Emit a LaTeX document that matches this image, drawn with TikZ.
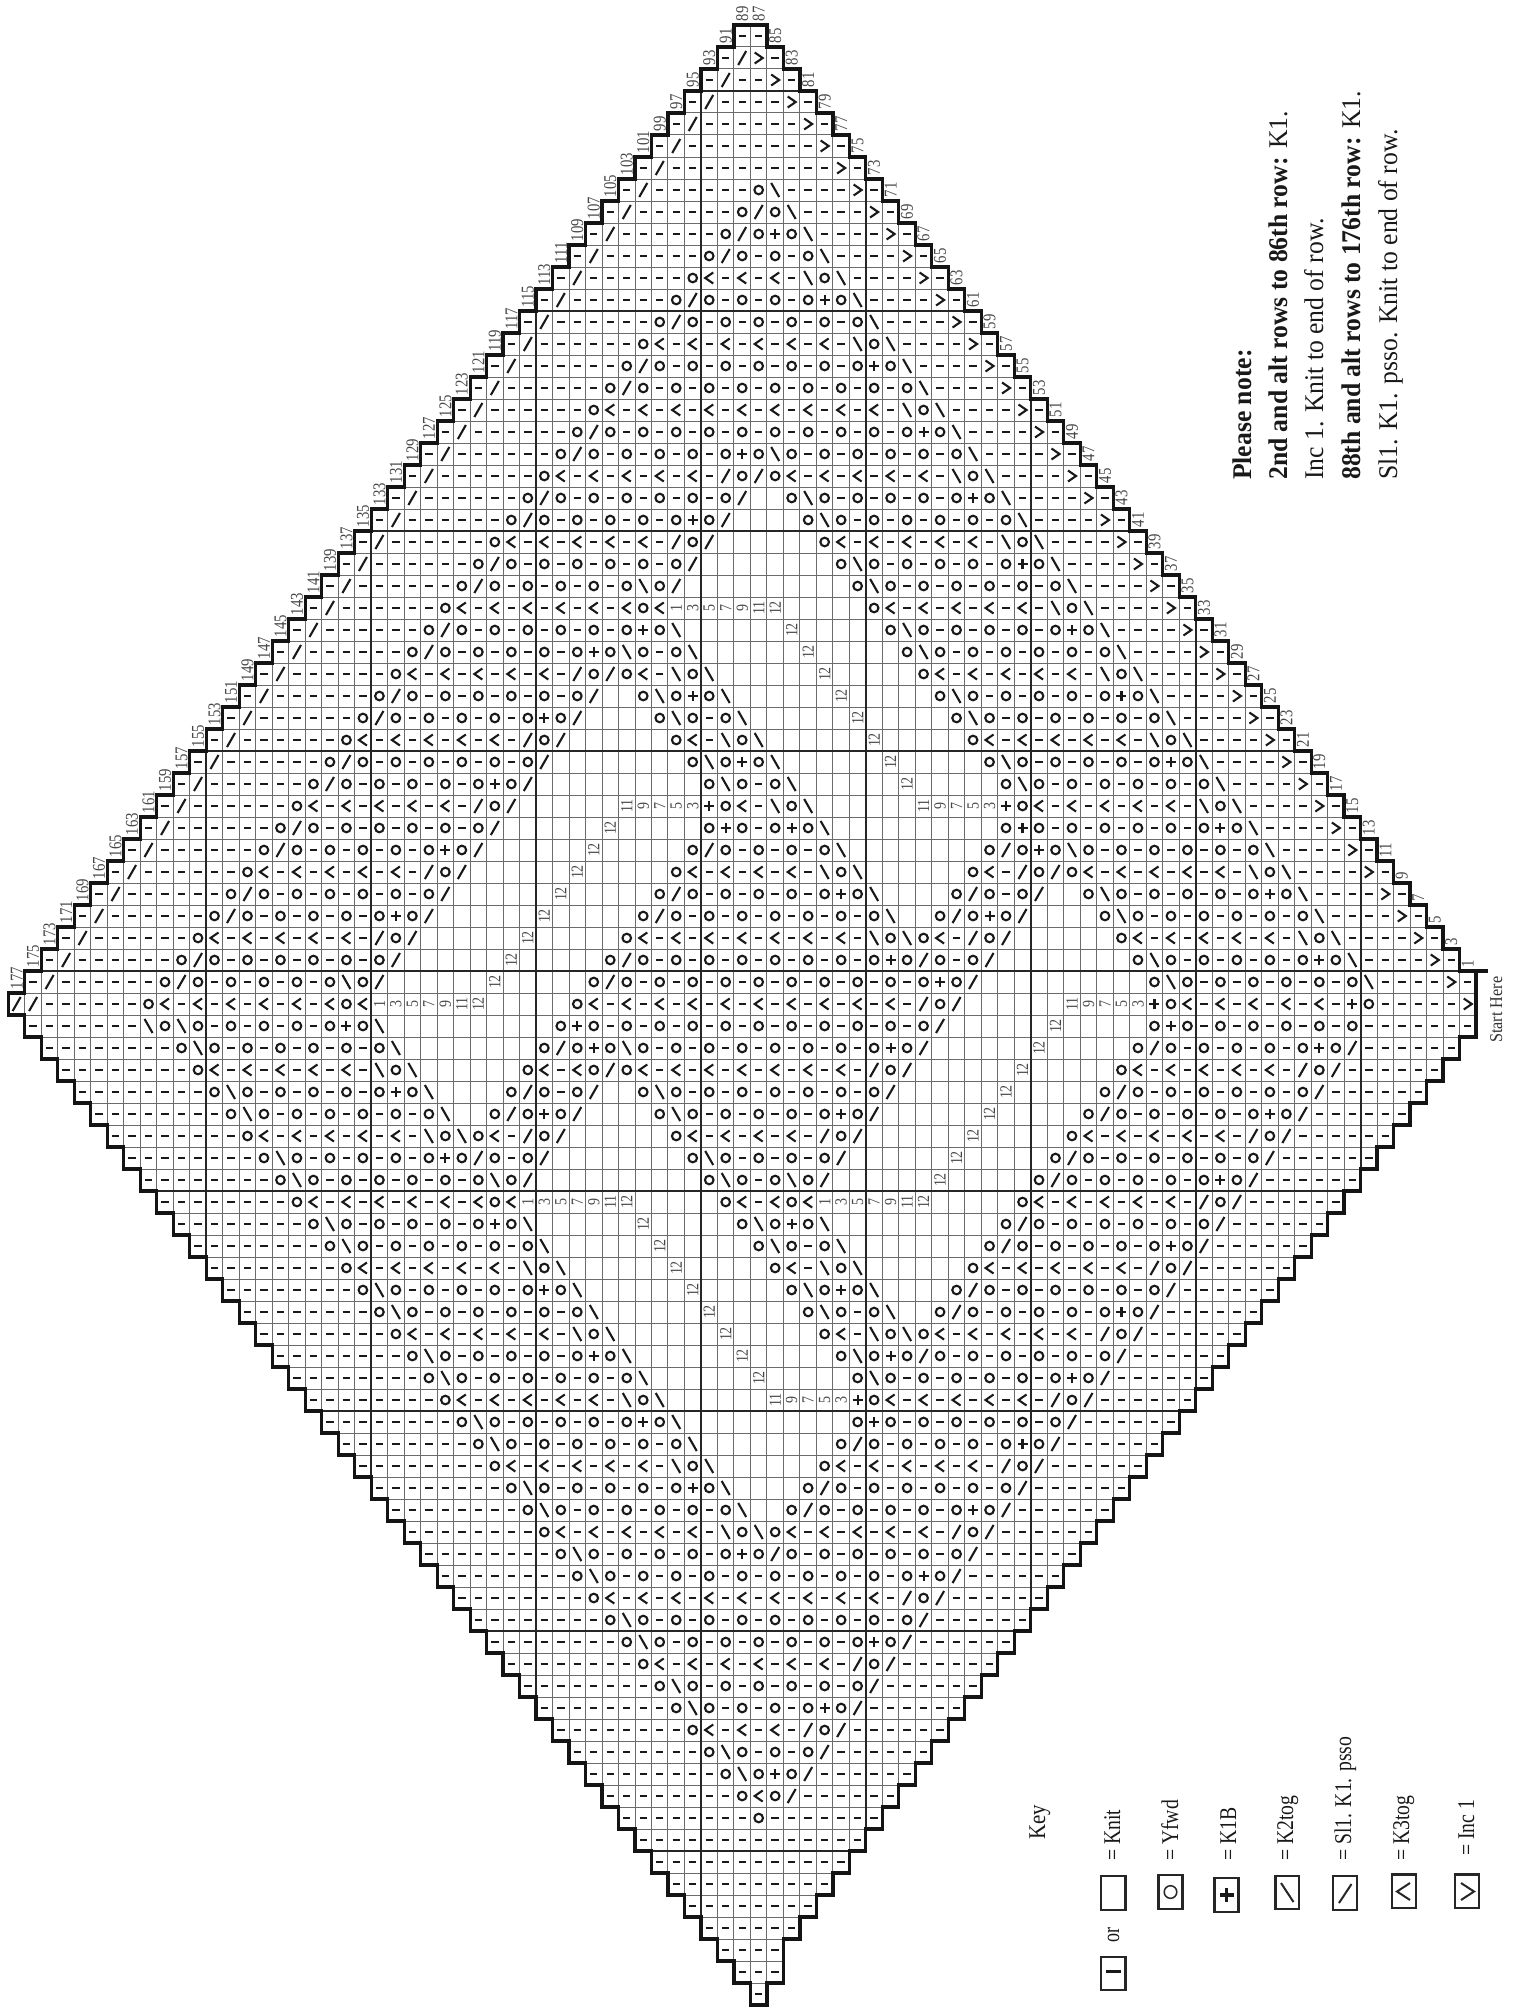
\documentclass[tikz,border=0pt]{standalone}
\usepackage{fontspec}
\setmainfont{Liberation Serif}
\newcount\rR \newcount\cC \newcount\tgt
\newdimen\xc \newdimen\yc
\def\Pt#1#2{\pgfqpoint{\dimexpr\xc+#1pt\relax}{\dimexpr\yc+#2pt\relax}}
\def\symM{\pgfpathmoveto{\Pt{-3.7}{0}}\pgfpathlineto{\Pt{3.7}{0}}\pgfusepathqstroke}
\def\symO{\pgfpathcircle{\pgfqpoint{\xc}{\yc}}{4.3pt}\pgfusepathqstroke}
\def\symP{\pgfpathmoveto{\Pt{-5}{0}}\pgfpathlineto{\Pt{5}{0}}\pgfpathmoveto{\Pt{0}{-5}}\pgfpathlineto{\Pt{0}{5}}\pgfusepathqstroke}
\def\symF{\pgfpathmoveto{\Pt{-4}{-7}}\pgfpathlineto{\Pt{4}{7}}\pgfusepathqstroke}
\def\symB{\pgfpathmoveto{\Pt{-4}{7}}\pgfpathlineto{\Pt{4}{-7}}\pgfusepathqstroke}
\def\symL{\pgfpathmoveto{\Pt{4}{5.5}}\pgfpathlineto{\Pt{-4}{0}}\pgfpathlineto{\Pt{4}{-5.5}}\pgfusepathqstroke}
\def\symG{\pgfpathmoveto{\Pt{-4}{5.5}}\pgfpathlineto{\Pt{4}{0}}\pgfpathlineto{\Pt{-4}{-5.5}}\pgfusepathqstroke}
\def\putcell#1{\xc=\dimexpr1476pt-8.245pt*\numexpr2*\cC-1\relax\relax
 \ifx#1-\symM\else\ifx#1o\symO\else\ifx#1+\symP\else\ifx#1/\symF\else\ifx#1b\symB\else\ifx#1<\symL\else\ifx#1>\symG\fi\fi\fi\fi\fi\fi\fi
 \advance\cC by -1 }
\def\strloop#1{\ifx#1\relax\else\putcell{#1}\expandafter\strloop\fi}
\def\fillto#1{\tgt=#1\relax\loop\ifnum\cC>\tgt \putcell-\repeat}
\def\segloop#1:#2;{\ifnum#1=0 \else\fillto{#1}\strloop#2\relax\expandafter\segloop\fi}
\def\Qq#1{\ifcase#1\or-o\or-o-o\or-o-o-o\or-o-o-o-o\or-o-o-o-o-o\or-o-o-o-o-o-o\or-o-o-o-o-o-o-o\or-o-o-o-o-o-o-o-o\or-o-o-o-o-o-o-o-o-o\or-o-o-o-o-o-o-o-o-o-o\fi}
\def\Wq#1{\ifcase#1\or-<\or-<-<\or-<-<-<\or-<-<-<-<\or-<-<-<-<-<\or-<-<-<-<-<-<\or-<-<-<-<-<-<-<\or-<-<-<-<-<-<-<-<\or-<-<-<-<-<-<-<-<-<\or-<-<-<-<-<-<-<-<-<-<\fi}
\def\Dq#1{\ifcase#1\or.\or..\or...\or....\or.....\or......\or.......\or........\or.........\or..........\or...........\or............\fi}
\def\getext#1{\ifnum#1<45 \edef\cL{\the\numexpr44+#1\relax}\edef\cT{\the\numexpr45-#1\relax}\else
 \edef\cL{\the\numexpr134-#1\relax}\ifnum#1<47 \def\cT{1}\else\ifnum#1=89 \def\cT{43}\else\ifnum#1=90 \def\cT{44}\else\edef\cT{\the\numexpr#1-45\relax}\fi\fi\fi\fi}
\def\getcol#1{\ifnum#1<45 \edef\rT{\the\numexpr45-#1\relax}\ifnum#1<43 \edef\rB{\the\numexpr#1+45\relax}\else\ifnum#1=43 \def\rB{89}\else\def\rB{90}\fi\fi\else
 \edef\rT{\the\numexpr#1-44\relax}\edef\rB{\the\numexpr134-#1\relax}\fi}
\def\KR#1#2{\rR=#1\relax\yc=\dimexpr-25pt-11pt*\numexpr2*\rR-1\relax\relax
 \getext{#1}\cC=\cL\relax\edef\segs{#2}\expandafter\segloop\segs 0:;\fillto{\numexpr\cT-1\relax}}
\newcommand\squeezed[2]{\scalebox{#1}[1]{#2}}
\def\lab#1#2#3{\node[lbl] at ({1476-16.49*(#1-.5)},{25+22*(#2-.5)}) {\squeezed{.82}{#3}};}
\tikzset{
 lbl/.style={rotate=90,inner sep=0pt,font=\fontsize{17}{17}\selectfont,text=black!72},
 edgelbl/.style={rotate=90,anchor=west,inner sep=0pt,font=\fontsize{18}{18}\selectfont,text=black!72},
 keytxt/.style={rotate=90,anchor=base west,inner sep=0pt,font=\fontsize{24}{24}\selectfont,text=black!90},
 notetxt/.style={rotate=90,anchor=base west,inner sep=0pt,font=\fontsize{27}{27}\selectfont,text=black!90},
 keybox/.style={draw=black!85,line width=2.5pt},
 keysym/.style={draw=black!85,line width=2pt},
 gridthin/.style={draw=black!58,line width=1pt},
 gridthick/.style={draw=black!85,line width=2pt},
 rim/.style={draw=black!92,line width=3.2pt,line cap=rect}
}
\begin{document}
\begin{tikzpicture}[x=1pt,y=-1pt]
\useasboundingbox[fill=white] (0,0) rectangle (1519,2007);
% thin grid
\foreach \r in {1,...,90}{\getext{\r}
 \draw[gridthin] ({1476-16.49*\cL},{25+22*(\r-1)}) -- ({1476-16.49*(\cT-1)},{25+22*(\r-1)});
 \draw[gridthin] ({1476-16.49*\cL},{25+22*\r}) -- ({1476-16.49*(\cT-1)},{25+22*\r});}
\foreach \c in {1,...,89}{\getcol{\c}
 \draw[gridthin] ({1476-16.49*\c},{25+22*(\rT-1)}) -- ({1476-16.49*\c},{25+22*\rB});
 \draw[gridthin] ({1476-16.49*(\c-1)},{25+22*(\rT-1)}) -- ({1476-16.49*(\c-1)},{25+22*\rB});}
% ten-cell heavy lines
\foreach \c in {7,17,...,77}{\getcol{\c}
 \draw[gridthick] ({1476-16.49*\c},{25+22*(\rT-1)}) -- ({1476-16.49*\c},{25+22*\rB});}
\foreach \r in {3,13,...,83}{\getext{\r}
 \draw[gridthick] ({1476-16.49*\cL},{25+22*\r}) -- ({1476-16.49*(\cT-1)},{25+22*\r});}
% symbols
\begin{scope}
\pgfsetlinewidth{2.1pt}\pgfsetstrokecolor{black!90}
\KR{1}{}
\KR{2}{45:/>;}
\KR{3}{46:/;43:>;}
\KR{4}{47:/;42:>;}
\KR{5}{48:/;41:>;}
\KR{6}{49:/;40:>;}
\KR{7}{50:/;39:>;}
\KR{8}{51:/;44:ob;38:>;}
\KR{9}{52:/;45:o/ob;37:>;}
\KR{10}{53:/;46:o/o+ob;36:>;}
\KR{11}{54:/;47:o/o\Qq{2}b;35:>;}
\KR{12}{55:/;48:o<\Wq{2}-bob;34:>;}
\KR{13}{56:/;49:o/o\Qq{3}+ob;33:>;}
\KR{14}{57:/;50:o/o\Qq{5}b;32:>;}
\KR{15}{58:/;51:o<\Wq{5}-bob;31:>;}
\KR{16}{59:/;52:o/o\Qq{6}+ob;30:>;}
\KR{17}{60:/;53:o/o\Qq{8}b;29:>;}
\KR{18}{61:/;54:o<\Wq{8}-bob;28:>;}
\KR{19}{62:/;55:o/o\Qq{9}+ob;27:>;}
\KR{20}{63:/;56:o/o\Qq{4}+obo\Qq{5}b;26:>;}
\KR{21}{64:/;57:o<\Wq{4}-/o/o<\Wq{4}-bob;25:>;}
\KR{22}{65:/;58:o/o\Qq{5}/\Dq{2}obo\Qq{4}+ob;24:>;}
\KR{23}{66:/;59:o/o\Qq{4}+o/\Dq{4}obo\Qq{5}b;23:>;}
\KR{24}{67:/;60:o<\Wq{4}-/o/\Dq{6}o<\Wq{4}-bob;22:>;}
\KR{25}{68:/;61:o/o\Qq{5}/\Dq{8}obo\Qq{4}+ob;21:>;}
\KR{26}{69:/;62:o/o\Qq{4}bo/\Dq{10}obo\Qq{5}b;20:>;}
\KR{27}{70:/;63:o<\Wq{5}o<\Dq{12}o<\Wq{4}-bob;19:>;}
\KR{28}{71:/;64:o/o\Qq{5}+ob\Dq{12}obo\Qq{4}+ob;18:>;}
\KR{29}{72:/;65:o/o\Qq{4}+obo\Qq{1}b\Dq{12}obo\Qq{5}b;17:>;}
\KR{30}{73:/;66:o<\Wq{4}-/o/o<-bob\Dq{12}o<\Wq{4}-bob;16:>;}
\KR{31}{74:/;67:o/o\Qq{5}/\Dq{2}obo+ob\Dq{12}obo\Qq{4}+ob;15:>;}
\KR{32}{75:/;68:o/o\Qq{4}+o/\Dq{4}obo\Qq{1}b\Dq{12}obo\Qq{5}b;14:>;}
\KR{33}{76:/;69:o<\Wq{4}-/o/\Dq{6}o<-bob\Dq{12}o<\Wq{4}-bob;13:>;}
\KR{34}{77:/;70:o/o\Qq{5}/\Dq{8}obo+ob\Dq{12}obo\Qq{4}+ob;12:>;}
\KR{35}{78:/;71:o/o\Qq{4}+o/\Dq{10}obo\Qq{1}b\Dq{12}obo\Qq{5}b;11:>;}
\KR{36}{79:/;72:o<\Wq{4}-/o/\Dq{11}+o<-bob\Dq{11}+o<\Wq{4}-bob;10:>;}
\KR{37}{80:/;73:o/o\Qq{5}/\Dq{12}o+o\Qq{1}+ob\Dq{10}o+o\Qq{5}+ob;9:>;}
\KR{38}{81:/;74:o/o\Qq{4}+o/\Dq{12}o/o\Qq{3}b\Dq{8}o/o+obo\Qq{5}b;8:>;}
\KR{39}{82:/;75:o<\Wq{4}-/o/\Dq{12}o<\Wq{3}-bob\Dq{6}o<-/o/o<\Wq{4}-bob;7:>;}
\KR{40}{83:/;76:o/o\Qq{5}/\Dq{12}o/o\Qq{4}+ob\Dq{4}o/o\Qq{1}/\Dq{2}obo\Qq{4}+ob;6:>;}
\KR{41}{84:/;77:o/o\Qq{4}+o/\Dq{12}o/o\Qq{6}b\Dq{2}o/o+o/\Dq{4}obo\Qq{5}b;5:>;}
\KR{42}{85:/;78:o<\Wq{4}-/o/\Dq{12}o<\Wq{6}-bobo<-/o/\Dq{6}o<\Wq{4}-bob;4:>;}
\KR{43}{86:/;79:o/o\Qq{5}/\Dq{12}o/o\Qq{7}+o/o\Qq{1}/\Dq{8}obo\Qq{4}+ob;3:>;}
\KR{44}{87:/;80:o/o\Qq{4}bo/\Dq{12}o/o\Qq{9}+o/\Dq{10}obo\Qq{5}b;2:>;}
\KR{45}{89://;81:o<\Wq{5}o<\Dq{12}o<\Wq{9}-/o/\Dq{11}+o<\Wq{4}-+o;1:>;}
\KR{46}{81:bobo\Qq{4}+ob\Dq{10}o+o\Qq{10}/\Dq{12}o+o\Qq{5};}
\KR{47}{79:obo\Qq{5}b\Dq{8}o/o+obo\Qq{7}+o/\Dq{12}o/o\Qq{4}+o/;}
\KR{48}{78:o<\Wq{4}-bob\Dq{6}o<-<o/o<\Wq{6}-/o/\Dq{12}o<\Wq{4}-/o/;}
\KR{49}{77:obo\Qq{4}+ob\Dq{4}o/o\Qq{1}/\Dq{2}obo\Qq{6}/\Dq{12}o/o\Qq{5}/;}
\KR{50}{76:obo\Qq{5}b\Dq{2}o/o+o/\Dq{4}obo\Qq{4}+o/\Dq{12}o/o\Qq{4}+o/;}
\KR{51}{75:o<\Wq{4}-bobo<-/o/\Dq{6}o<\Wq{3}-/o/\Dq{12}o<\Wq{4}-/o/;}
\KR{52}{74:obo\Qq{4}+o/o\Qq{1}/\Dq{8}obo\Qq{3}/\Dq{12}o/o\Qq{5}/;}
\KR{53}{73:obo\Qq{5}bo/\Dq{10}obo\Qq{1}bo/\Dq{12}o/o\Qq{4}+o/;}
\KR{54}{72:o<\Wq{5}o<\Dq{12}o<\Wq{1}o<\Dq{12}o<\Wq{4}-/o/;}
\KR{55}{71:obo\Qq{4}+ob\Dq{12}obo+ob\Dq{10}o/o\Qq{5}/;}
\KR{56}{70:obo\Qq{5}b\Dq{12}obo\Qq{1}b\Dq{8}o/o\Qq{4}+o/;}
\KR{57}{69:o<\Wq{4}-bob\Dq{12}o<-bob\Dq{6}o<\Wq{4}-/o/;}
\KR{58}{68:obo\Qq{4}+ob\Dq{12}obo+ob\Dq{4}o/o\Qq{5}/;}
\KR{59}{67:obo\Qq{5}b\Dq{12}obo\Qq{1}b\Dq{2}o/o\Qq{4}+o/;}
\KR{60}{66:o<\Wq{4}-bob\Dq{12}o<-bobo<\Wq{4}-/o/;}
\KR{61}{65:obo\Qq{4}+ob\Dq{12}obo+o/o\Qq{5}/;}
\KR{62}{64:obo\Qq{5}b\Dq{12}obo\Qq{5}+o/;}
\KR{63}{63:o<\Wq{4}-bob\Dq{11}+o<\Wq{4}-/o/;}
\KR{64}{62:obo\Qq{4}+ob\Dq{10}o+o\Qq{5}/;}
\KR{65}{61:obo\Qq{5}b\Dq{8}o/o\Qq{4}+o/;}
\KR{66}{60:o<\Wq{4}-bob\Dq{6}o<\Wq{4}-/o/;}
\KR{67}{59:obo\Qq{4}+ob\Dq{4}o/o\Qq{5}/;}
\KR{68}{58:obo\Qq{5}b\Dq{2}o/o\Qq{4}+o/;}
\KR{69}{57:o<\Wq{4}-bobo<\Wq{4}-/o/;}
\KR{70}{56:obo\Qq{4}+o/o\Qq{5}/;}
\KR{71}{55:obo\Qq{9}+o/;}
\KR{72}{54:o<\Wq{8}-/o/;}
\KR{73}{53:obo\Qq{8}/;}
\KR{74}{52:obo\Qq{6}+o/;}
\KR{75}{51:o<\Wq{5}-/o/;}
\KR{76}{50:obo\Qq{5}/;}
\KR{77}{49:obo\Qq{3}+o/;}
\KR{78}{48:o<\Wq{2}-/o/;}
\KR{79}{47:obo\Qq{2}/;}
\KR{80}{46:obo+o/;}
\KR{81}{45:o<o/;}
\KR{82}{44:o;}
\KR{83}{}
\KR{84}{}
\KR{85}{}
\KR{86}{}
\KR{87}{}
\KR{88}{}
\KR{89}{}
\KR{90}{}
\end{scope}
% stepped outline
\foreach \r in {1,...,90}{\getext{\r}
 \draw[rim] ({1476-16.49*\cL},{25+22*(\r-1)}) -- ({1476-16.49*\cL},{25+22*\r});
 \draw[rim] ({1476-16.49*(\cT-1)},{25+22*(\r-1)}) -- ({1476-16.49*(\cT-1)},{25+22*\r});
 \let\oL\cL \let\oT\cT
 \pgfmathtruncatemacro\nx{\r+1}
 \ifnum\r<90 \getext{\nx}
  \draw[rim] ({1476-16.49*\oL},{25+22*\r}) -- ({1476-16.49*\cL},{25+22*\r});
  \draw[rim] ({1476-16.49*(\oT-1)},{25+22*\r}) -- ({1476-16.49*(\cT-1)},{25+22*\r});
 \fi}
\draw[rim] ({1476-16.49*45},25) -- ({1476-16.49*43},25);
\draw[rim] ({1476-16.49*44},2005) -- ({1476-16.49*43},2005);
\draw[rim] (1476,971) -- (1486,971);
% row numbers
\foreach \c in {1,...,89}{\getcol{\c}\pgfmathtruncatemacro\nn{2*\c-1}
 \node[edgelbl] at ({1476-16.49*(\c-.5)},{25+22*(\rT-1)-3.5}) {\squeezed{.82}{\nn}};}
% repeat numbers inside the plain areas
\lab{49}{27}{1}\lab{48}{27}{3}\lab{47}{27}{5}\lab{46}{27}{7}\lab{45}{27}{9}\lab{44}{27}{11}\lab{43}{27}{12}
\lab{42}{28}{12}\lab{41}{29}{12}\lab{40}{30}{12}\lab{39}{31}{12}\lab{38}{32}{12}\lab{37}{33}{12}\lab{36}{34}{12}\lab{35}{35}{12}
\lab{34}{36}{11}\lab{33}{36}{9}\lab{32}{36}{7}\lab{31}{36}{5}\lab{30}{36}{3}
\lab{52}{36}{11}\lab{51}{36}{9}\lab{50}{36}{7}\lab{49}{36}{5}\lab{48}{36}{3}
\lab{53}{37}{12}\lab{54}{38}{12}\lab{55}{39}{12}\lab{56}{40}{12}\lab{57}{41}{12}\lab{58}{42}{12}\lab{59}{43}{12}\lab{60}{44}{12}
\lab{61}{45}{12}\lab{62}{45}{11}\lab{63}{45}{9}\lab{64}{45}{7}\lab{65}{45}{5}\lab{66}{45}{3}\lab{67}{45}{1}
\lab{25}{45}{11}\lab{24}{45}{9}\lab{23}{45}{7}\lab{22}{45}{5}\lab{21}{45}{3}
\lab{26}{46}{12}\lab{27}{47}{12}\lab{28}{48}{12}\lab{29}{49}{12}\lab{30}{50}{12}\lab{31}{51}{12}\lab{32}{52}{12}\lab{33}{53}{12}
\lab{34}{54}{12}\lab{35}{54}{11}\lab{36}{54}{9}\lab{37}{54}{7}\lab{38}{54}{5}\lab{39}{54}{3}\lab{40}{54}{1}
\lab{58}{54}{1}\lab{57}{54}{3}\lab{56}{54}{5}\lab{55}{54}{7}\lab{54}{54}{9}\lab{53}{54}{11}\lab{52}{54}{12}
\lab{51}{55}{12}\lab{50}{56}{12}\lab{49}{57}{12}\lab{48}{58}{12}\lab{47}{59}{12}\lab{46}{60}{12}\lab{45}{61}{12}\lab{44}{62}{12}
\lab{43}{63}{11}\lab{42}{63}{9}\lab{41}{63}{7}\lab{40}{63}{5}\lab{39}{63}{3}
% start marker
\node[rotate=90,anchor=base west,inner sep=0pt,font=\fontsize{18}{18}\selectfont,text=black!80] (starthere) at (1502,1043) {\squeezed{.9}{Start Here}};
% note
\node[notetxt] (note1) at (1251,480) {\squeezed{.95}{\textbf{Please note:}}};
\node[notetxt] (note2) at (1287,480) {\squeezed{.95}{\textbf{2nd and alt rows to 86th row:} K1.}};
\node[notetxt] (note3) at (1323,480) {\squeezed{.95}{Inc 1. Knit to end of row.}};
\node[notetxt] (note4) at (1360,480) {\squeezed{.95}{\textbf{88th and alt rows to 176th row:} K1.}};
\node[notetxt] (note5) at (1397,480) {\squeezed{.95}{Sl1. K1. psso. Knit to end of row.}};
% key
\node[keytxt] (keyhead) at (1045,1840) {\squeezed{.87}{Key}};
\node[keytxt] (k1) at (1120,1861) {\squeezed{.82}{= Knit}};
\node[keytxt] (k2) at (1178,1861) {\squeezed{.82}{= Yfwd}};
\node[keytxt] (k3) at (1236,1861) {\squeezed{.82}{= K1B}};
\node[keytxt] (k4) at (1293,1861) {\squeezed{.82}{= K2tog}};
\node[keytxt] (k5) at (1351,1861) {\squeezed{.82}{= Sl1. K1. psso}};
\node[keytxt] (k6) at (1409,1861) {\squeezed{.82}{= K3tog}};
\node[keytxt] (k7) at (1474,1856) {\squeezed{.82}{= Inc 1}};
\node[keytxt] (k8) at (1119,1943) {\squeezed{.75}{or}};
\draw[keybox] (1101,1876) rectangle (1125.5,1910);
\draw[keybox] (1101,1957) rectangle (1125.5,1990);
\draw[black!90,line width=3.5pt] (1106,1971.5) -- (1120.5,1971.5);
\draw[keybox] (1158.5,1875) rectangle (1182.5,1909);
\draw[black!85,line width=1.5pt] (1170.5,1892) circle (6.3);
\draw[keybox] (1214.5,1878) rectangle (1238.5,1912);
\draw[black!90,line width=3.5pt] (1219.5,1895) -- (1233.5,1895) (1226.5,1888) -- (1226.5,1902);
\draw[keybox] (1275.5,1876) rectangle (1299,1909);
\draw[keysym] (1281,1883) -- (1293.5,1902);
\draw[keybox] (1333,1876) rectangle (1357,1910);
\draw[keysym] (1339,1903) -- (1351.5,1884);
\draw[keybox] (1392,1874.5) rectangle (1416,1908);
\draw[keysym] (1410,1883) -- (1397,1891.5) -- (1410,1900);
\draw[keybox] (1455,1874.5) rectangle (1479,1908);
\draw[keysym] (1461,1883) -- (1474,1891.5) -- (1461,1900);
\end{tikzpicture}
\end{document}
